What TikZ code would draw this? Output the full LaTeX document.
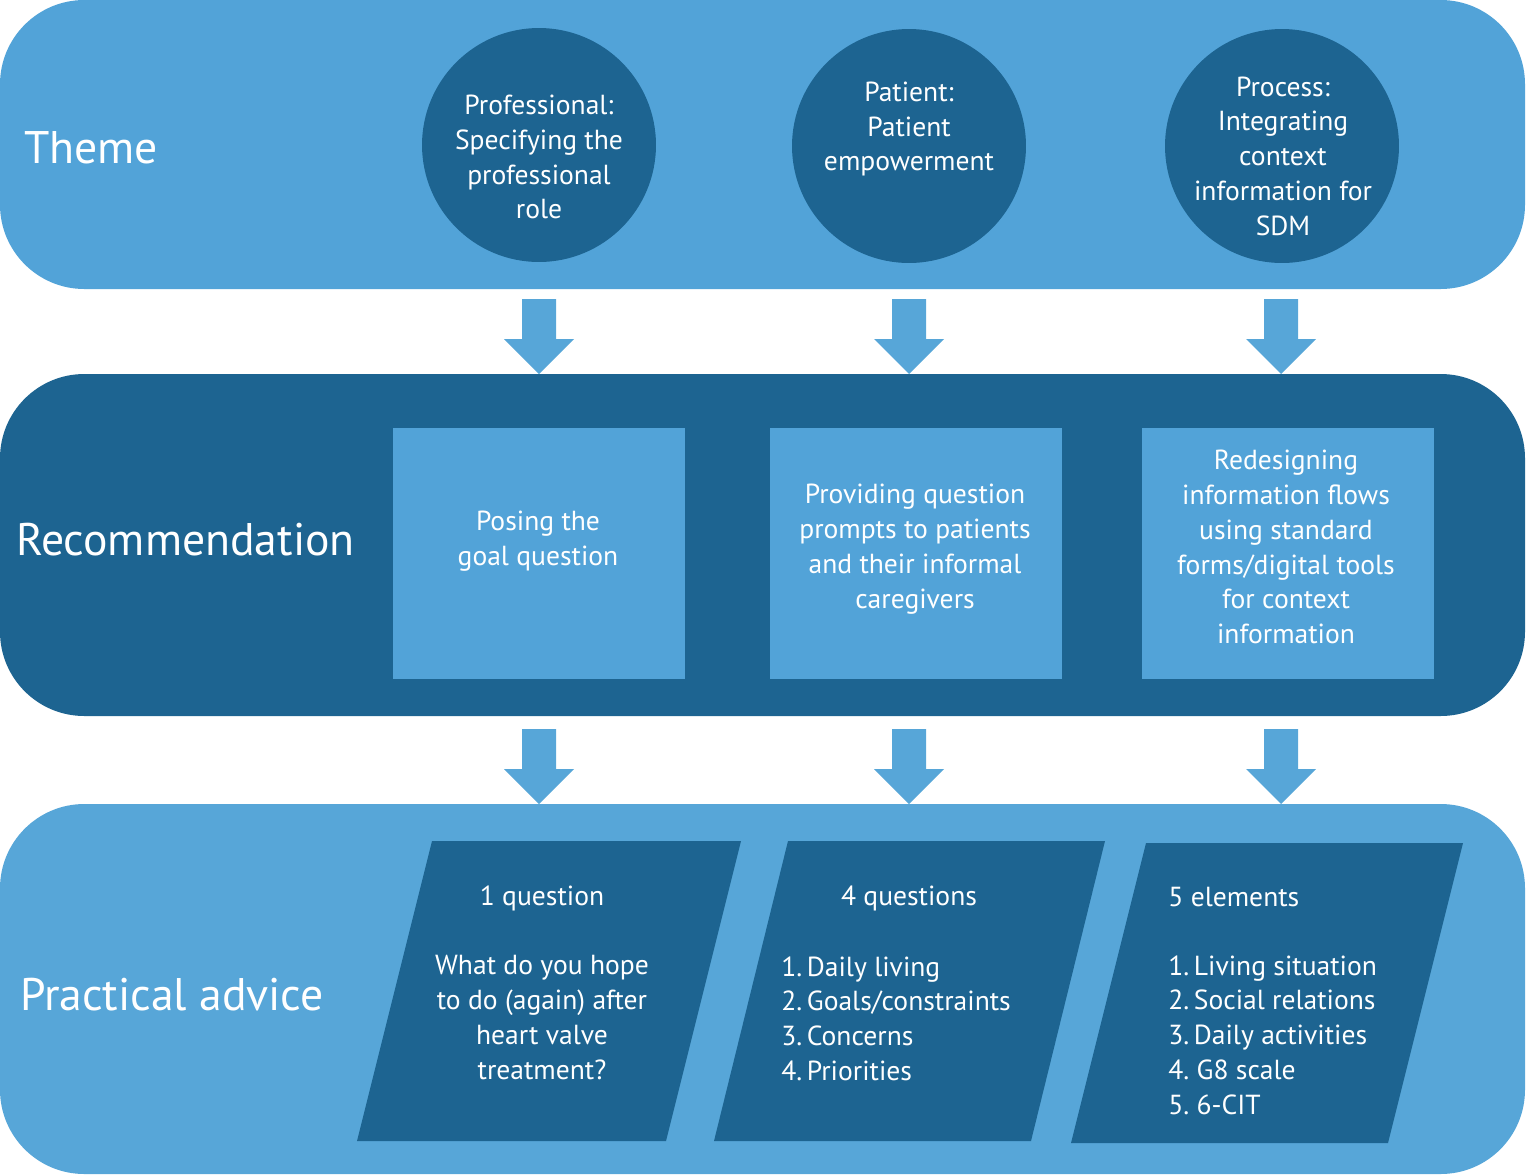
\documentclass[tikz,border=0pt]{standalone}
\usepackage{fontspec}
\setmainfont{PT Sans}
\usetikzlibrary{positioning}

\definecolor{lightblue}{HTML}{52A3D8}
\definecolor{bandblue}{HTML}{57A6D8}
\definecolor{darkblue}{HTML}{1D6491}

\tikzset{
  band/.style={rounded corners=48},
  rowlabel/.style={anchor=west,text=white,font=\fontsize{26}{30}\selectfont},
  themecircle/.style={circle,fill=darkblue,minimum size=4.68cm,inner sep=0pt},
  recbox/.style={fill=lightblue,minimum width=5.84cm,minimum height=5.02cm,inner sep=0pt},
  bodytext/.style={text=white,font=\fontsize{15.7}{19.8}\selectfont},
  blockarrow/.style={fill=bandblue}
}

% block arrow: centre x, top y
\newcommand{\downarrowat}[2]{%
  \fill[blockarrow] (#1-17,#2) -- (#1+17,#2) -- (#1+17,#2+40) -- (#1+35,#2+40)
    -- (#1,#2+75) -- (#1-35,#2+40) -- (#1-17,#2+40) -- cycle;}

\begin{document}
\begin{tikzpicture}[x=0.02cm,y=-0.02cm]
\useasboundingbox (0,0) rectangle (1528,1174);

% bands
\fill[lightblue,band] (0,0) rectangle (1525,289);
\fill[darkblue,band] (0,374) rectangle (1525,716);
\fill[bandblue,band] (0,804) rectangle (1525,1174);

\node[rowlabel] (theme) at (18,148) {Theme};
\node[rowlabel] (rec) at (10,540) {Recommendation};
\node[rowlabel] (advice) at (14,995) {Practical advice};

% themes
\node[themecircle] (prof) at (539,145) {};
\node[themecircle] (pat) at (909,146) {};
\node[themecircle] (proc) at (1282,146) {};
\node[bodytext,align=center] (proftext) at (539,157)
  {Professional:\\Specifying the\\professional\\role};
\node[bodytext,align=center] (pattext) at (909,129)
  {Patient:\\Patient\\empowerment};
\node[bodytext,align=center] (proctext) at (1283,156)
  {Process:\\Integrating\\context\\information for\\SDM};

% arrows
\downarrowat{539}{299}
\downarrowat{909}{299}
\downarrowat{1281}{299}
\downarrowat{539}{729}
\downarrowat{909}{729}
\downarrowat{1281}{729}

% recommendations
\node[recbox] (goal) at (539,553.5) {};
\node[recbox] (prompts) at (916,553.5) {};
\node[recbox] (flows) at (1288,553.5) {};
\node[bodytext,align=center] (goaltext) at (538,541)
  {Posing the\\goal question};
\node[bodytext,align=center] (promptstext) at (915,549)
  {Providing question\\prompts to patients\\and their informal\\caregivers};
\node[bodytext,align=center] (flowstext) at (1286,547)
  {Redesigning\\information flows\\using standard\\forms/digital tools\\for context\\information};

% practical advice
\fill[darkblue] (432,841) -- (741,841) -- (666,1141) -- (357,1141) -- cycle;
\fill[darkblue] (788,841) -- (1105,841) -- (1031,1141) -- (714,1141) -- cycle;
\fill[darkblue] (1146,843) -- (1463,843) -- (1388,1143) -- (1071,1143) -- cycle;
\node[bodytext] (onehead) at (542,898) {1 question};
\node[bodytext,align=center,anchor=north,inner sep=0pt] (onetext) at (542,955)
  {What do you hope\\to do (again) after\\heart valve\\treatment?};
\node[bodytext] (fourhead) at (909,898) {4 questions};
\node[bodytext,align=left,anchor=north west,inner sep=0pt] (fourtext) at (781,956)
  {1.\,Daily living\\2.\,Goals/constraints\\3.\,Concerns\\4.\,Priorities};
\node[bodytext,anchor=west,inner sep=0pt] (fivehead) at (1168,897) {5 elements};
\node[bodytext,align=left,anchor=north west,inner sep=0pt] (fivetext) at (1168,955)
  {1.\,Living situation\\2.\,Social relations\\3.\,Daily activities\\4.\ G8 scale\\5.\ 6-CIT};
\end{tikzpicture}
\end{document}
